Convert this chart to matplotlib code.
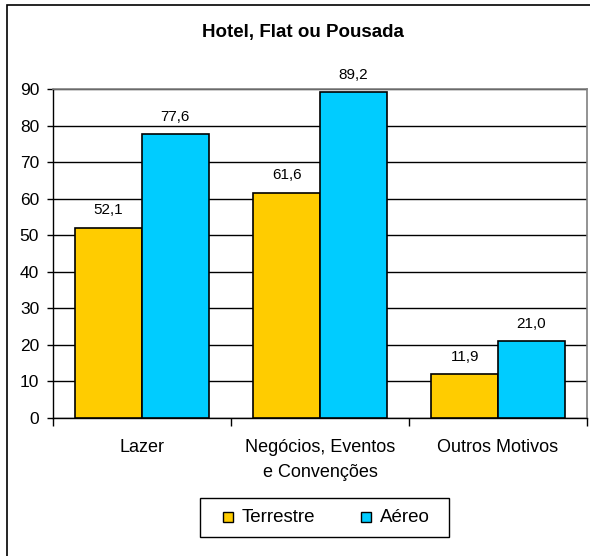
import matplotlib
matplotlib.use("Agg")
import matplotlib.pyplot as plt
from matplotlib.patches import Rectangle
import numpy as np

plt.rcParams['font.family'] = ['Liberation Sans', 'DejaVu Sans']

title = "Hotel, Flat ou Pousada"
categories = ["Lazer", "Negócios, Eventos\ne Convenções", "Outros Motivos"]
series_names = ["Terrestre", "Aéreo"]
terrestre = [52.1, 61.6, 11.9]
aereo = [77.6, 89.2, 21.0]
yticks = [0, 10, 20, 30, 40, 50, 60, 70, 80, 90]
colors = ["#FFCC00", "#00CCFF"]

fig = plt.figure(figsize=(5.9, 5.56), dpi=100)
W, H = 590, 556
ax = fig.add_axes([53 / W, (H - 418) / H, 534 / W, 329 / H])

x = np.arange(len(categories))
bw = 0.375
for vals, off, c in [(terrestre, -bw / 2, colors[0]), (aereo, bw / 2, colors[1])]:
    bars = ax.bar(x + off, vals, width=bw, color=c, edgecolor="black", linewidth=1.2, zorder=3)
    for b, v in zip(bars, vals):
        ax.annotate(f"{v:.1f}".replace(".", ","), (b.get_x() + b.get_width() / 2, v),
                    xytext=(0, 12.5), textcoords="offset points", ha="center", va="center",
                    fontsize=11, zorder=4)

ax.set_xlim(-0.5, 2.5)
ax.set_ylim(0, 90)
ax.set_yticks(yticks)
ax.set_yticklabels([str(t) for t in yticks], fontsize=12.5)
ax.yaxis.grid(True, color="black", linewidth=1, zorder=0)
ax.set_axisbelow(True)

ax.set_xticks([-0.5, 0.5, 1.5, 2.5])
ax.set_xticklabels([])
ax.set_xticks(x, minor=True)
ax.set_xticklabels(categories, minor=True, fontsize=13, linespacing=1.6)
ax.tick_params(axis="x", which="minor", length=0, pad=15)
ax.tick_params(axis="x", which="major", length=6, direction="out", width=1)
ax.tick_params(axis="y", length=4, direction="out", width=1, pad=6)

for s in ["top", "right"]:
    ax.spines[s].set_color("#808080")
    ax.spines[s].set_linewidth(1.2)
for s in ["left", "bottom"]:
    ax.spines[s].set_color("black")
    ax.spines[s].set_linewidth(1)

fig.text(303 / W, 1 - 32 / H, title, ha="center", va="center", fontsize=13.5, fontweight="bold")

# legend drawn manually in figure pixel coordinates
def fx(px):
    return px / W

def fy(py):
    return 1 - py / H

fig.patches.append(Rectangle((fx(200), fy(537)), fx(249), 39 / H, transform=fig.transFigure,
                             fill=False, edgecolor="black", linewidth=1))
leg_sq_x = [223, 361]
for name, c, sx in zip(series_names, colors, leg_sq_x):
    fig.patches.append(Rectangle((fx(sx), fy(522)), fx(10), 10 / H, transform=fig.transFigure,
                                 facecolor=c, edgecolor="black", linewidth=1))
    fig.text(fx(sx + 19), fy(517), name, ha="left", va="center", fontsize=13.5)

fig.patches.append(Rectangle((7 / W, -0.1), 1.2, 1 - 5 / H + 0.1, transform=fig.transFigure,
                             fill=False, edgecolor="black", linewidth=1.2))

fig.savefig("out.png", dpi=100)
